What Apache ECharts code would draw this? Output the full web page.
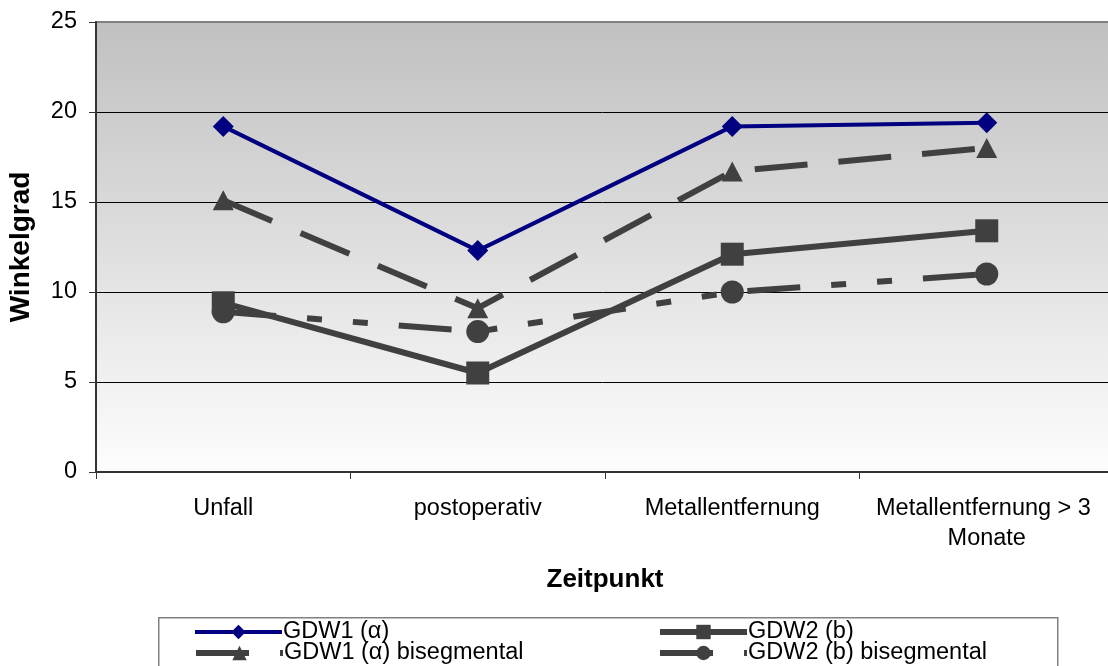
<!DOCTYPE html>
<html>
<head>
<meta charset="utf-8">
<script src="https://cdn.jsdelivr.net/npm/echarts@6/dist/echarts.min.js"></script>
<style>
html,body{margin:0;padding:0;background:#fff;}
#chart{width:1108px;height:666px;}
</style>
</head>
<body>
<div id="chart"></div>
<script>
var categories = ['Unfall', 'postoperativ', 'Metallentfernung', 'Metallentfernung > 3 Monate'];
var gdw1 = [19.2, 12.3, 19.2, 19.4];
var gdw2 = [9.4, 5.5, 12.1, 13.4];
var gdw1Bis = [15.1, 9.1, 16.7, 18.0];
var gdw2Bis = [8.9, 7.8, 10.0, 11.0];
var seriesNames = ['GDW1 (\u03b1)', 'GDW2 (b)', 'GDW1 (\u03b1) bisegmental', 'GDW2 (b) bisegmental'];

var FONT = '"Liberation Sans", Arial, sans-serif';
var GREY = '#404040';
var NAVY = '#000080';
var chart = echarts.init(document.getElementById('chart'), null, {renderer: 'canvas'});

function legendAt(name, left, top, lw) {
  return {
    data: [name], left: left, top: top, orient: 'horizontal', padding: 0,
    itemWidth: 87, itemHeight: 18, itemGap: 0,
    lineStyle: {width: lw},
    textStyle: {fontFamily: FONT, fontSize: 23.5, color: '#000', padding: [0, 0, 0, -4]},
    selectedMode: false
  };
}

chart.setOption({
  animation: false,
  backgroundColor: '#fff',
  textStyle: {fontFamily: FONT},
  grid: {
    left: 96, top: 22, right: -6, bottom: 194,
    outerBoundsMode: 'none', containLabel: false,
    show: true, borderWidth: 2, borderColor: '#808080',
    backgroundColor: new echarts.graphic.LinearGradient(0, 0, 0, 1, [
      {offset: 0, color: '#c0c0c0'},
      {offset: 1, color: '#fdfdfd'}
    ])
  },
  legend: [
    legendAt(seriesNames[0], 193, 620, 4),
    legendAt(seriesNames[1], 657, 620, 6),
    legendAt(seriesNames[2], 193, 641, 6),
    legendAt(seriesNames[3], 657, 641, 6)
  ],
  graphic: [{
    type: 'rect', left: 158, top: 617, z: -1,
    shape: {width: 899, height: 70},
    style: {fill: '#fff', stroke: '#808080', lineWidth: 1.5}
  }],
  xAxis: {
    type: 'category', data: categories, boundaryGap: true,
    name: 'Zeitpunkt', nameLocation: 'middle', nameGap: 95,
    nameTextStyle: {fontFamily: FONT, fontSize: 26, fontWeight: 'bold', color: '#000'},
    axisLine: {lineStyle: {color: '#333', width: 2}},
    axisTick: {show: true, inside: false, length: 7, lineStyle: {color: '#333', width: 1}},
    axisLabel: {fontFamily: FONT, fontSize: 23.5, color: '#000', margin: 22, lineHeight: 30,
      width: 240, overflow: 'break', interval: 0},
    splitLine: {show: false}
  },
  yAxis: {
    type: 'value', min: 0, max: 25, interval: 5,
    name: 'Winkelgrad', nameLocation: 'middle', nameGap: 61, nameRotate: 90,
    nameTextStyle: {fontFamily: FONT, fontSize: 28, fontWeight: 'bold', color: '#000'},
    axisLine: {show: true, lineStyle: {color: '#333', width: 2}},
    axisTick: {show: true, inside: false, length: 7, lineStyle: {color: '#333', width: 1}},
    axisLabel: {fontFamily: FONT, fontSize: 23.5, color: '#000', margin: 19},
    splitLine: {show: true, showMaxLine: false, showMinLine: false, lineStyle: {color: '#000', width: 1}}
  },
  series: [
    {
      name: seriesNames[0], type: 'line', data: gdw1, z: 5,
      symbol: 'diamond', symbolSize: [21, 21],
      lineStyle: {color: NAVY, width: 4},
      itemStyle: {color: NAVY}
    },
    {
      name: seriesNames[1], type: 'line', data: gdw2, z: 4,
      symbol: 'rect', symbolSize: 23,
      lineStyle: {color: GREY, width: 6},
      itemStyle: {color: GREY}
    },
    {
      name: seriesNames[2], type: 'line', data: gdw1Bis, z: 3,
      symbol: 'triangle', symbolSize: [21, 20],
      lineStyle: {color: GREY, width: 6, type: [53, 31]},
      itemStyle: {color: GREY}
    },
    {
      name: seriesNames[3], type: 'line', data: gdw2Bis, z: 2,
      symbol: 'circle', symbolSize: 23,
      lineStyle: {color: GREY, width: 6, type: [53, 31, 15, 31, 15, 31]},
      itemStyle: {color: GREY}
    }
  ]
});
</script>
</body>
</html>
